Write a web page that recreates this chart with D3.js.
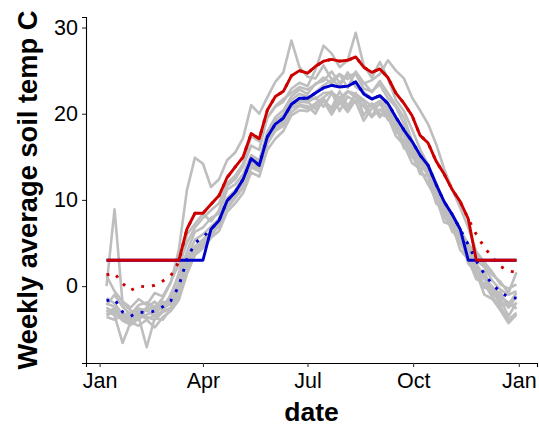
<!DOCTYPE html>
<html>
<head>
<meta charset="utf-8">
<script src="https://cdn.jsdelivr.net/npm/d3@7"></script>
<style>
    body { margin: 0; background: #fff; }
    text { font-family: "Liberation Sans", Arial, sans-serif; }
</style>
</head>
<body>
<div id="chart"></div>
<script>
// weekly soil temperature, one gray line per year + two summary curves
const firstWeek = "2019-01-07";
const nWeeks = 52;

const years = [
    [0.0, 8.9, -2.0, -2.8, -3.9, -2.5, -1.8, -2.9, -0.9, 1.2, 4.0, 6.3, 6.8,
     7.9, 8.4, 11.2, 11.8, 13.0, 15.2, 14.6, 17.9, 19.6, 20.4, 22.0, 22.8, 22.3,
     23.5, 23.8, 24.9, 23.6, 24.4, 24.6, 22.9, 22.6, 23.4, 21.8, 20.8, 18.8, 16.2,
     14.6, 13.2, 10.9, 9.2, 7.6, 6.1, 4.6, 3.0, 2.2, 0.6, -0.4, -1.0, -0.6],
    [-2.2, -1.0, -2.4, -3.3, -2.2, -1.9, -2.5, -1.4, 0.4, 4.2, 11.1, 14.9, 14.2,
     11.5, 12.4, 14.6, 15.5, 17.2, 21.0, 20.0, 21.9, 23.7, 24.8, 28.5, 25.4, 24.3,
     24.1, 25.6, 24.0, 23.2, 24.8, 23.1, 22.5, 21.8, 22.0, 20.9, 19.2, 17.9, 16.1,
     14.6, 13.3, 11.4, 9.1, 7.9, 6.1, 4.2, 2.3, 1.0, -0.1, -1.2, -1.9, -2.6],
    [-3.0, -2.6, -3.6, -4.0, -3.3, -3.8, -3.4, -2.2, -1.2, 1.5, 6.0, 7.2, 8.4,
     7.5, 8.8, 11.6, 12.4, 13.9, 16.3, 15.8, 19.6, 20.8, 21.4, 22.9, 23.6, 23.2,
     25.1, 27.9, 27.0, 25.4, 26.2, 29.4, 25.6, 24.2, 26.0, 24.1, 21.6, 20.3, 18.2,
     15.9, 14.1, 12.0, 9.6, 8.4, 6.6, 4.1, 2.6, 1.0, -0.5, -1.8, -2.4, -2.0],
    [-1.4, -2.0, -3.3, -3.1, -2.6, -2.9, -2.3, -2.6, -2.0, -0.6, 2.5, 4.4, 5.0,
     6.0, 7.1, 9.4, 10.6, 11.8, 14.0, 13.6, 16.8, 18.2, 19.0, 21.0, 21.6, 21.5,
     22.5, 23.3, 23.9, 24.6, 24.0, 24.8, 23.5, 23.9, 24.6, 26.2, 25.0, 24.1, 21.9,
     20.4, 18.8, 16.5, 13.6, 11.2, 9.1, 6.8, 4.0, 2.8, 1.6, 0.2, -0.3, 0.2],
    [-2.8, -3.4, -6.6, -4.2, -4.6, -3.9, -4.8, -3.6, -2.9, -1.6, 1.4, 3.6, 4.4,
     5.6, 6.4, 8.6, 9.6, 10.8, 13.2, 12.7, 15.8, 17.1, 18.0, 19.8, 20.4, 20.3,
     20.9, 21.5, 19.9, 21.4, 20.2, 21.6, 20.9, 19.6, 20.5, 19.7, 17.4, 16.4, 14.3,
     13.6, 11.8, 10.3, 7.4, 7.1, 4.2, 3.1, 0.8, 0.3, -1.3, -2.4, -3.9, -3.1],
    [-3.3, -2.9, -3.8, -4.3, -3.6, -7.1, -3.7, -3.9, -2.6, -0.9, 2.0, 4.1, 4.6,
     5.9, 7.0, 9.0, 10.2, 11.4, 13.8, 13.3, 16.5, 18.0, 18.6, 20.2, 20.9, 20.6,
     21.2, 21.9, 22.6, 20.3, 22.0, 21.4, 19.2, 20.6, 21.1, 20.0, 18.5, 16.0, 15.6,
     13.0, 12.8, 9.6, 8.9, 6.3, 5.6, 2.6, 1.6, -1.0, -1.5, -2.8, -4.3, -3.3],
    [-3.6, -3.9, -3.4, -3.7, -3.2, -2.8, -3.5, -2.9, -2.5, -1.0, 2.4, 4.3, 5.3,
     6.2, 7.4, 9.8, 10.7, 12.0, 14.1, 13.8, 17.0, 18.5, 19.2, 20.8, 21.5, 21.3,
     21.9, 20.8, 22.4, 21.1, 22.6, 21.9, 21.4, 19.7, 21.4, 19.3, 18.8, 16.4, 16.0,
     13.6, 13.5, 10.0, 9.1, 6.6, 6.0, 3.2, 2.4, -0.2, -0.4, -2.2, -2.0, -2.6],
    [-2.5, -3.1, -4.0, -4.5, -3.8, -3.3, -3.0, -1.8, -2.2, -0.3, 2.8, 4.6, 5.4,
     6.4, 7.2, 9.7, 10.4, 12.3, 14.4, 13.7, 17.1, 18.4, 19.0, 21.1, 21.3, 21.4,
     20.5, 21.5, 20.7, 22.6, 20.9, 22.2, 20.8, 21.0, 19.6, 20.5, 17.8, 17.6, 15.3,
     14.9, 12.7, 11.4, 8.4, 8.0, 5.3, 4.6, 1.9, 1.7, -0.6, -0.7, -2.5, -1.2],
    [-3.4, -3.0, -3.7, -3.9, -2.7, -3.6, -3.9, -3.0, -2.6, -1.2, 2.2, 4.0, 4.9,
     6.3, 6.9, 9.3, 11.0, 11.9, 13.9, 14.0, 16.6, 18.1, 19.3, 20.7, 21.0, 20.9,
     20.0, 21.8, 20.3, 21.9, 20.4, 22.4, 19.8, 21.2, 20.0, 19.6, 18.3, 16.8, 15.0,
     14.2, 12.9, 11.0, 8.6, 7.2, 5.4, 3.8, 1.1, 0.9, -1.0, -1.6, -3.5, -1.9],
    [-2.0, -2.4, -3.1, -3.6, -2.9, -2.6, -2.7, -2.3, -1.7, 0.4, 3.2, 5.4, 6.0,
     6.9, 7.8, 10.2, 11.1, 12.6, 14.8, 14.4, 17.6, 19.2, 19.9, 21.6, 22.3, 22.0,
     21.7, 22.4, 22.5, 21.8, 22.6, 22.3, 21.6, 20.9, 21.5, 20.5, 19.0, 17.5, 15.1,
     13.5, 12.0, 9.9, 8.1, 6.6, 5.0, 3.3, 2.2, 0.9, -0.3, -1.3, -2.1, -0.8],
    [1.2, -0.6, -1.8, -2.5, -1.5, -2.2, -0.8, -1.2, 0.5, 2.6, 5.0, 6.8, 7.9,
     8.8, 9.6, 11.9, 12.8, 14.2, 17.4, 16.8, 19.5, 20.9, 21.7, 22.4, 23.1, 22.8,
     23.4, 24.2, 23.5, 24.6, 23.0, 24.9, 23.6, 22.5, 23.8, 22.4, 21.0, 19.6, 16.9,
     15.0, 13.6, 11.5, 9.4, 8.1, 6.5, 4.9, 3.7, 2.5, 1.3, 0.5, -0.8, 1.6]
];

const upperCurve = [1.3, 1.5, 0.3, -0.5, 0.0, -0.1, 0.1, 0.6, 1.2, 2.8, 6.6, 8.45, 8.45,
    9.5, 10.5, 12.6, 13.8, 15.0, 17.7, 17.1, 20.4, 22.0, 22.6, 24.4, 25.0, 24.7,
    25.5, 26.1, 26.3, 26.1, 26.2, 26.6, 25.4, 24.8, 25.2, 24.2, 22.4, 21.2, 19.8,
    17.5, 16.6, 14.5, 13.0, 11.2, 9.8, 7.8, 6.0, 4.5, 3.3, 2.3, 1.75, 1.6];

const meanCurve = [-1.7, -1.5, -3.0, -3.5, -3.0, -3.1, -2.9, -2.4, -1.7, 0.0, 3.1, 5.0, 5.7,
    6.6, 7.6, 9.9, 10.9, 12.4, 14.8, 14.0, 17.3, 18.8, 19.5, 21.1, 21.8, 21.8,
    22.4, 23.0, 23.3, 23.1, 23.2, 23.7, 22.3, 21.7, 22.1, 21.2, 19.6, 18.1, 16.8,
    15.2, 14.0, 11.8, 9.8, 8.3, 6.6, 4.8, 2.9, 1.4, 0.2, -0.7, -1.3, -1.4];

// growing season (week index) and the floor used outside it
const threshold = 3;
const upperSeason = [10, 45];
const meanSeason = [13, 44];

const width = 539;
const height = 431;
const margin = { top: 17, right: 2, bottom: 68, left: 86 };

const start = new Date(firstWeek + "T00:00:00Z");
const weeks = d3.utcMonday.range(start, d3.utcDay.offset(start, 7 * nWeeks));

function toPoints(values) {
    return values.map((v, i) => ({ date: weeks[i], value: v }));
}

function seasonPoints(values, season) {
    return values.map((v, i) => ({
        date: weeks[i],
        value: (i >= season[0] && i <= season[1]) ? v : threshold
    }));
}

const allValues = years.flat();
const xExtent = d3.extent(weeks);
const xPad = (xExtent[1] - xExtent[0]) * 0.05;
const yExtent = d3.extent(allValues);
const yPad = (yExtent[1] - yExtent[0]) * 0.05;

const x = d3.scaleUtc()
    .domain([new Date(+xExtent[0] - xPad), new Date(+xExtent[1] + xPad)])
    .range([margin.left, width - margin.right]);

const y = d3.scaleLinear()
    .domain([yExtent[0] - yPad, yExtent[1] + yPad])
    .range([height - margin.bottom, margin.top]);

const svg = d3.select("#chart").append("svg")
    .attr("width", width)
    .attr("height", height);

const line = d3.line()
    .x(d => x(d.date))
    .y(d => y(d.value));

svg.append("g")
    .selectAll("path")
    .data(years)
    .enter().append("path")
    .attr("d", d => line(toPoints(d)))
    .style("fill", "none")
    .style("stroke", "#bebebe")
    .style("stroke-width", "2.6px")
    .style("stroke-linejoin", "round");

const curves = [
    { values: meanCurve, color: "#0000cd", dotted: true },
    { values: upperCurve, color: "#cd0000", dotted: true },
    { values: meanCurve, color: "#0000cd", season: meanSeason },
    { values: upperCurve, color: "#cd0000", season: upperSeason }
];

svg.append("g")
    .selectAll("path")
    .data(curves)
    .enter().append("path")
    .attr("d", d => d.dotted ? line(toPoints(d.values)) : line(seasonPoints(d.values, d.season)))
    .style("fill", "none")
    .style("stroke", d => d.color)
    .style("stroke-width", "2.9px")
    .style("stroke-linejoin", "round")
    .style("stroke-dasharray", d => d.dotted ? "2.9,8" : null);

const xAxis = svg.append("g")
    .attr("transform", `translate(0,${height - margin.bottom})`)
    .call(d3.axisBottom(x)
        .ticks(d3.utcMonth.every(3))
        .tickFormat(d3.utcFormat("%b"))
        .tickSize(4)
        .tickPadding(6));

const yAxis = svg.append("g")
    .attr("transform", `translate(${margin.left},0)`)
    .call(d3.axisLeft(y)
        .tickValues([0, 10, 20, 30])
        .tickSize(4)
        .tickPadding(4));

[xAxis, yAxis].forEach(g => {
    g.select(".domain").attr("stroke", "#000").attr("stroke-width", 1.1);
    g.selectAll(".tick line").attr("stroke", "#333").attr("stroke-width", 1.1);
    g.selectAll(".tick text")
        .attr("fill", "#000")
        .style("font-size", "21.5px");
});

svg.append("text")
    .attr("x", (margin.left + width - margin.right) / 2)
    .attr("y", 421)
    .style("text-anchor", "middle")
    .style("font-size", "26.5px")
    .style("font-weight", "bold")
    .text("date");

svg.append("text")
    .attr("transform", `translate(37,${(margin.top + height - margin.bottom) / 2}) rotate(-90)`)
    .style("text-anchor", "middle")
    .style("font-size", "27.3px")
    .style("font-weight", "bold")
    .text("Weekly average soil temp C");
</script>
</body>
</html>
